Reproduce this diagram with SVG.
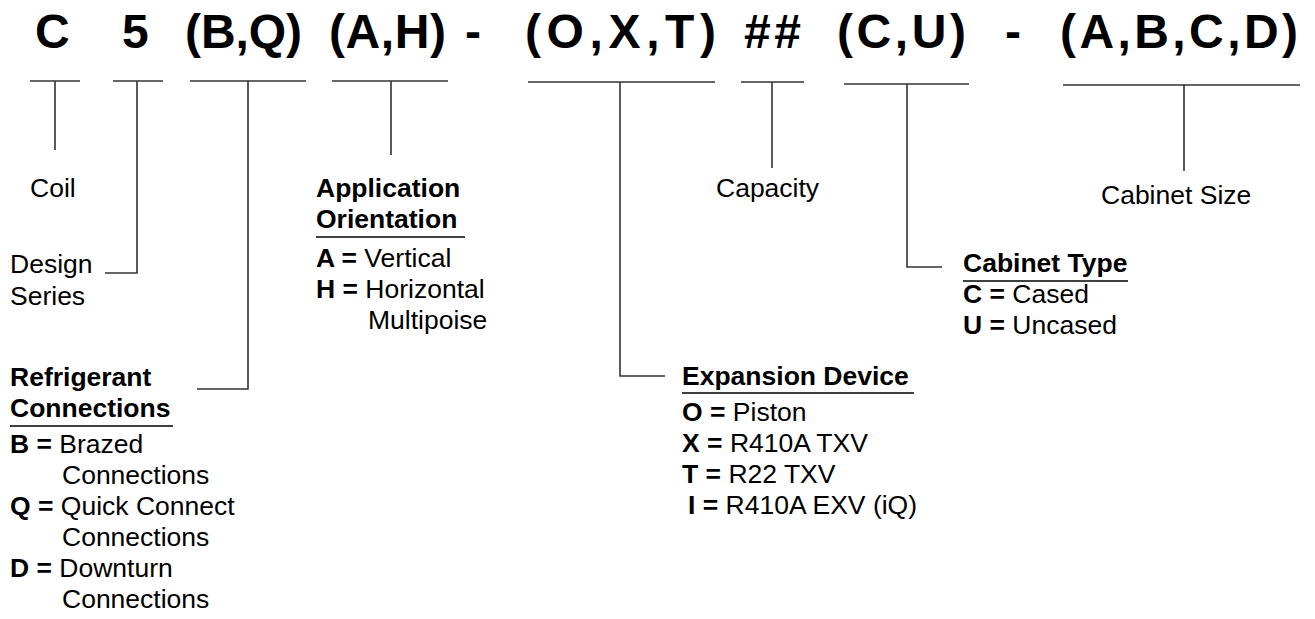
<svg xmlns="http://www.w3.org/2000/svg" width="1315" height="619" viewBox="0 0 1315 619">
<style>
.t{font-family:"Liberation Sans",Arial,sans-serif;font-weight:bold;font-size:48px;fill:#000}
.l{font-family:"Liberation Sans",Arial,sans-serif;font-size:26.5px;fill:#000}
.b{font-weight:bold}
.ln{stroke:#333;stroke-width:1.6;fill:none}
.ul{stroke:#000;stroke-width:1.4}
</style>
<rect width="1315" height="619" fill="#fff"/>
<g id="title">
<text class="t" x="35" y="48">C</text>
<text class="t" x="122" y="48">5</text>
<text class="t" x="185" y="48" textLength="117" lengthAdjust="spacing">(B,Q)</text>
<text class="t" x="329" y="48" textLength="117" lengthAdjust="spacing">(A,H)</text>
<text class="t" x="465" y="48">-</text>
<text class="t" x="525" y="48" textLength="191" lengthAdjust="spacing">(O,X,T)</text>
<text class="t" x="744" y="48" textLength="57" lengthAdjust="spacing">##</text>
<text class="t" x="837" y="48" textLength="129" lengthAdjust="spacing">(C,U)</text>
<text class="t" x="1005" y="48">-</text>
<text class="t" x="1060" y="48" textLength="238" lengthAdjust="spacing">(A,B,C,D)</text>
</g>
<g id="connectors">
<path class="ln" d="M30 81H80M55 81V150"/>
<path class="ln" d="M113 81H163M137 81V273H105"/>
<path class="ln" d="M190 81H306M248 81V389H197"/>
<path class="ln" d="M332 81H448M391 81V155"/>
<path class="ln" d="M528 82H715M620 82V376H665"/>
<path class="ln" d="M741 82H804M772 82V168"/>
<path class="ln" d="M844 84H969M907 84V267H942"/>
<path class="ln" d="M1063 85H1300M1184 85V171"/>
</g>
<g id="coil"><text class="l" x="30" y="197">Coil</text></g>
<g id="design-series">
<text class="l" x="10" y="273">Design</text>
<text class="l" x="10" y="305">Series</text>
</g>
<g id="refrigerant-connections">
<text class="l b" x="10" y="386">Refrigerant</text>
<text class="l b" x="10" y="417">Connections</text>
<line class="ul" x1="10" y1="426" x2="173" y2="426"/>
<text class="l" x="10" y="453"><tspan class="b">B =</tspan> Brazed</text>
<text class="l" x="62" y="484">Connections</text>
<text class="l" x="10" y="515"><tspan class="b">Q =</tspan> Quick Connect</text>
<text class="l" x="62" y="546">Connections</text>
<text class="l" x="10" y="577"><tspan class="b">D =</tspan> Downturn</text>
<text class="l" x="62" y="608">Connections</text>
</g>
<g id="application-orientation">
<text class="l b" x="316" y="197">Application</text>
<text class="l b" x="316" y="228">Orientation</text>
<line class="ul" x1="316" y1="237" x2="465" y2="237"/>
<text class="l" x="316" y="267"><tspan class="b">A =</tspan> Vertical</text>
<text class="l" x="316" y="298"><tspan class="b">H =</tspan> Horizontal</text>
<text class="l" x="368" y="329">Multipoise</text>
</g>
<g id="capacity"><text class="l" x="716" y="197">Capacity</text></g>
<g id="cabinet-size"><text class="l" x="1101" y="204">Cabinet Size</text></g>
<g id="cabinet-type">
<text class="l b" x="963" y="272">Cabinet Type</text>
<line class="ul" x1="963" y1="281" x2="1128" y2="281"/>
<text class="l" x="963" y="303"><tspan class="b">C =</tspan> Cased</text>
<text class="l" x="963" y="334"><tspan class="b">U =</tspan> Uncased</text>
</g>
<g id="expansion-device">
<text class="l b" x="682" y="385">Expansion Device</text>
<line class="ul" x1="682" y1="393" x2="914" y2="393"/>
<text class="l" x="682" y="421"><tspan class="b">O =</tspan> Piston</text>
<text class="l" x="682" y="452"><tspan class="b">X =</tspan> R410A TXV</text>
<text class="l" x="682" y="483"><tspan class="b">T =</tspan> R22 TXV</text>
<text class="l" x="688" y="514"><tspan class="b">I =</tspan> R410A EXV (iQ)</text>
</g>
</svg>
